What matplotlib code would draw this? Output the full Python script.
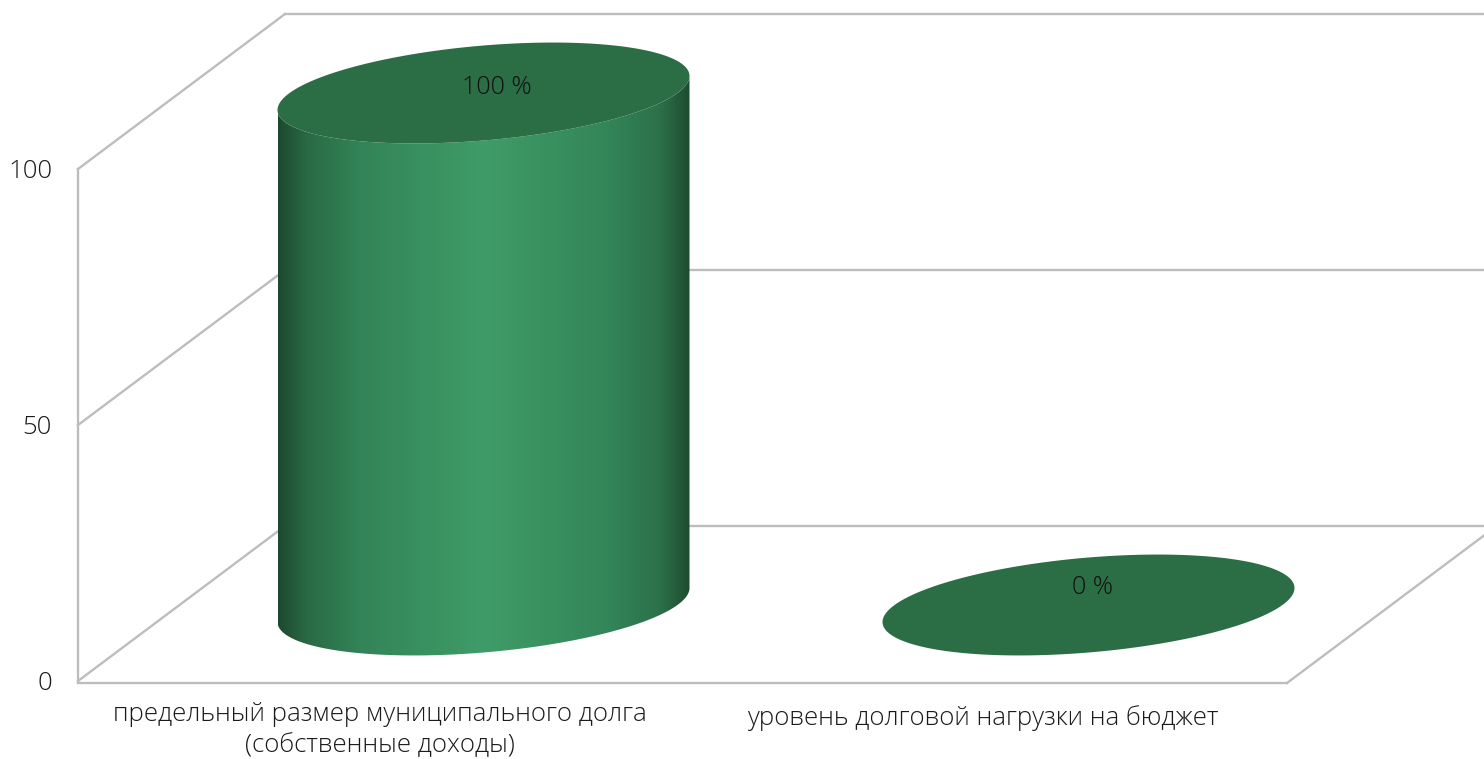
import numpy as np
import matplotlib
matplotlib.use("Agg")
import matplotlib.pyplot as plt
from matplotlib.colors import LinearSegmentedColormap
from matplotlib.patches import Polygon

categories = ["предельный размер муниципального долга\n(собственные доходы)",
              "уровень долговой нагрузки на бюджет"]
values = [100, 0]
value_labels = ["100 %", "0 %"]
y_ticks = [0, 50, 100]

plt.rcParams['font.family'] = ['Open Sans', 'DejaVu Sans']

# layout of the fake 3d box, in pixels
W, H = 1484, 759
FRONT_X, FRONT_Y = 78, 681
DEPTH_X, DEPTH_Y = 207, -155
FRONT_RIGHT = 1287
PX_PER_UNIT = 5.12
CENTERS = [483.5, 1088.5]
FLOOR_Y = 605
RX, SLANT, RY = 206, 17, 47.5
GRID = "#bdbdbd"
TOP_COLOR = "#2b6d45"
LABEL_DX = [13.5, 4.5]
LABEL_DY = [-5, -17]
CAT_X = [380, 983]
CAT_Y = [730, 718]

body_cmap = LinearSegmentedColormap.from_list(
    "body", [(0, "#1d4a2f"), (0.07, "#2a6a44"), (0.2, "#338458"),
             (0.5, "#3f9c68"), (0.8, "#338659"), (0.93, "#2c7049"), (1, "#1e4c30")])


def vy(v):
    return FRONT_Y - v * PX_PER_UNIT


def ellipse(cx, cy, t):
    x = cx + RX * np.cos(t)
    y = cy - SLANT * np.cos(t) - RY * np.sin(t)
    return np.column_stack([x, y])


fig = plt.figure(figsize=(W / 100, H / 100), dpi=100)
ax = fig.add_axes([0, 0, 1, 1])

# walls
for v in y_ticks:
    ax.plot([FRONT_X, FRONT_X + DEPTH_X], [vy(v), vy(v) + DEPTH_Y], color=GRID, lw=1.7, zorder=1)
    ax.plot([FRONT_X + DEPTH_X, W], [vy(v) + DEPTH_Y, vy(v) + DEPTH_Y], color=GRID, lw=1.7, zorder=1)
    ax.text(52, vy(v) + 2, str(v), ha="right", va="center", fontsize=18.5,
            fontweight="light", color="#1a1a1a")
ax.plot([FRONT_X, FRONT_X], [vy(0), vy(100)], color=GRID, lw=1.7, zorder=1)
ax.plot([FRONT_X, FRONT_RIGHT], [vy(0) + 2, vy(0) + 2], color=GRID, lw=1.7, zorder=1)
ax.plot([FRONT_RIGHT, FRONT_RIGHT + DEPTH_X], [vy(0) + 2, vy(0) + 2 + DEPTH_Y], color=GRID, lw=1.7, zorder=1)

# cylinders
for i, (cx, v, lab) in enumerate(zip(CENTERS, values, value_labels)):
    top_y = FLOOR_Y - v * PX_PER_UNIT
    if v > 0:
        low = ellipse(cx, FLOOR_Y, np.linspace(np.pi, 2 * np.pi, 120))
        up = ellipse(cx, top_y, np.linspace(2 * np.pi, np.pi, 120))
        body = Polygon(np.vstack([low, up]), closed=True, fc="none", ec="none",
                       transform=ax.transData)
        ax.add_patch(body)
        grad = np.linspace(0, 1, 256).reshape(1, -1)
        im = ax.imshow(grad, cmap=body_cmap, aspect="auto", zorder=2,
                       extent=[cx - RX, cx + RX, FLOOR_Y + 60, top_y - 60])
        im.set_clip_path(body)
    ax.add_patch(Polygon(ellipse(cx, top_y, np.linspace(0, 2 * np.pi, 240)), closed=True,
                         fc=TOP_COLOR, ec="none", zorder=3))
    ax.text(cx + LABEL_DX[i], top_y + LABEL_DY[i], lab, ha="center", va="center", fontsize=18,
            fontweight="light", color="#111111", zorder=4)

for i, cat in enumerate(categories):
    ax.text(CAT_X[i], CAT_Y[i], cat, ha="center", va="center", fontsize=18.6,
            fontweight="light", color="#1a1a1a", linespacing=1.3)

ax.set_xlim(0, W)
ax.set_ylim(H, 0)
ax.axis("off")

fig.savefig("out.png", dpi=100)
plt.close(fig)
